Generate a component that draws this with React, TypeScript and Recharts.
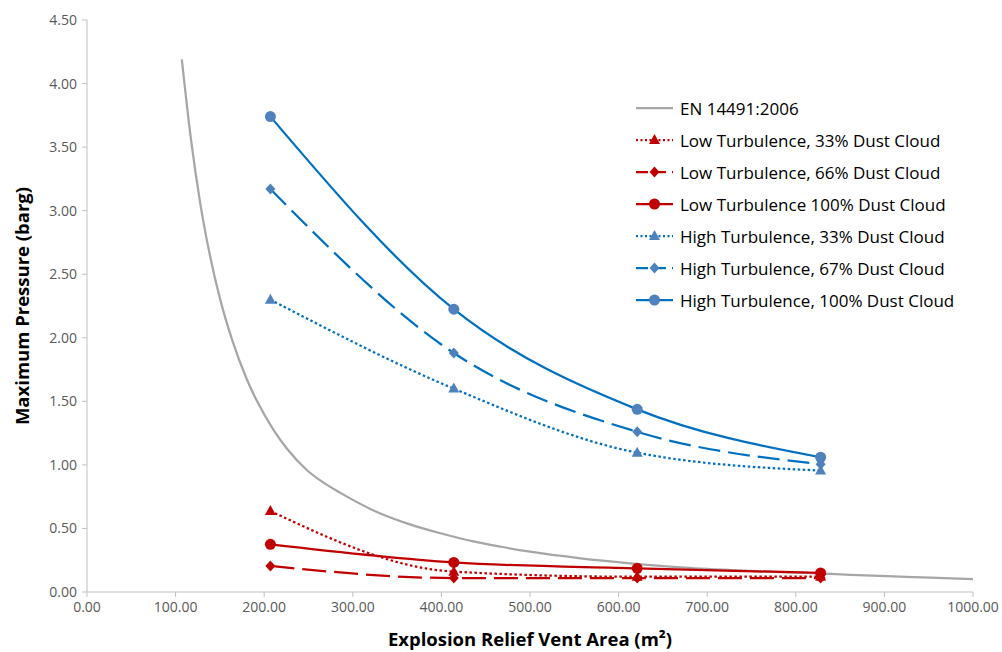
import { LineChart, Line, XAxis, YAxis } from "recharts"

// x axis: vent area (m²), y axis: max pressure (barg)
const xTicks = [0, 100, 200, 300, 400, 500, 600, 700, 800, 900, 1000]
const yTicks = [0, 0.5, 1, 1.5, 2, 2.5, 3, 3.5, 4, 4.5]

const ventAreas = [207, 414, 621, 828]
const lowTurb33 = [0.637, 0.16, 0.12, 0.12]
const lowTurb66 = [0.205, 0.11, 0.11, 0.11]
const lowTurb100 = [0.375, 0.233, 0.186, 0.15]
const highTurb33 = [2.3, 1.6, 1.096, 0.955]
const highTurb67 = [3.17, 1.88, 1.26, 1.005]
const highTurb100 = [3.74, 2.225, 1.437, 1.06]

// EN 14491:2006 reference curve
const enArea = [107, 117, 128, 139, 150, 164, 180, 192, 211, 226, 248, 267, 286, 324, 361, 399, 436, 467, 500, 557, 613, 670, 726, 782, 839, 895, 952, 1000]
const enPressure = [4.19, 3.58, 3.05, 2.64, 2.31, 1.98, 1.68, 1.5, 1.27, 1.125, 0.96, 0.86, 0.78, 0.64, 0.54, 0.462, 0.398, 0.356, 0.317, 0.265, 0.226, 0.194, 0.173, 0.157, 0.142, 0.126, 0.113, 0.102]

const RED = "#C00000"
const BLUE = "#0070C0"
const BLUE_MARK = "#4F81BD"
const GREY = "#A6A6A6"
const FONT = "'Open Sans', sans-serif"

const toPoints = (xs: number[], ys: number[]) => xs.map((x, i) => ({ x, y: ys[i] }))

type Shape = "circle" | "diamond" | "triangle"

function markerPath(shape: Shape, cx: number, cy: number) {
  if (shape === "diamond") return `M${cx},${cy - 5.5}L${cx + 5},${cy}L${cx},${cy + 5.5}L${cx - 5},${cy}Z`
  return `M${cx},${cy - 6}L${cx + 5.5},${cy + 4}L${cx - 5.5},${cy + 4}Z`
}

function Marker({ shape, cx, cy, fill }: { shape: Shape; cx: number; cy: number; fill: string }) {
  if (shape === "circle") return <circle cx={cx} cy={cy} r={5.5} fill={fill} />
  return <path d={markerPath(shape, cx, cy)} fill={fill} />
}

const makeDot = (shape: Shape, fill: string) => (props: any) => {
  const { cx, cy, index } = props
  return (
    <g key={`m-${index}`}>
      <Marker shape={shape} cx={cx} cy={cy} fill={fill} />
    </g>
  )
}

const series = [
  { name: "Low Turbulence, 33% Dust Cloud", values: lowTurb33, color: RED, mark: RED, shape: "triangle" as Shape, dash: "2.5 2.5" },
  { name: "Low Turbulence, 66% Dust Cloud", values: lowTurb66, color: RED, mark: RED, shape: "diamond" as Shape, dash: "24 8" },
  { name: "Low Turbulence 100% Dust Cloud", values: lowTurb100, color: RED, mark: RED, shape: "circle" as Shape, dash: undefined },
  { name: "High Turbulence, 33% Dust Cloud", values: highTurb33, color: BLUE, mark: BLUE_MARK, shape: "triangle" as Shape, dash: "2.5 2.5" },
  { name: "High Turbulence, 67% Dust Cloud", values: highTurb67, color: BLUE, mark: BLUE_MARK, shape: "diamond" as Shape, dash: "22 8" },
  { name: "High Turbulence, 100% Dust Cloud", values: highTurb100, color: BLUE, mark: BLUE_MARK, shape: "circle" as Shape, dash: undefined },
]

function LegendBox() {
  const rows = [{ name: "EN 14491:2006", color: GREY, mark: "", shape: null as Shape | null, dash: undefined as string | undefined }, ...series]
  return (
    <div style={{ position: "absolute", left: 636, top: 92, fontFamily: FONT, fontSize: 17, color: "#000" }}>
      {rows.map((r) => (
        <div key={r.name} style={{ display: "flex", alignItems: "center", height: 32 }}>
          <svg width={37} height={14} style={{ marginRight: 7 }}>
            <line x1={0} y1={7} x2={37} y2={7} stroke={r.color} strokeWidth={2.25} strokeDasharray={r.dash ? (r.dash.startsWith("2.5") ? "2 2.5" : "12 6") : undefined} />
            {r.shape && <Marker shape={r.shape} cx={18.5} cy={7} fill={r.mark} />}
          </svg>
          <span style={{ whiteSpace: "nowrap" }}>{r.name}</span>
        </div>
      ))}
    </div>
  )
}

export default function App() {
  const tick = { fill: "#595959", fontSize: 14, fontFamily: FONT }
  return (
    <div style={{ position: "absolute", left: 0, top: 0, width: 1002, height: 652, background: "#fff" }}>
      <LineChart width={1002} height={652} margin={{ top: 20, right: 29, bottom: 0, left: 0 }} style={{ fontFamily: FONT }}>
        <XAxis
          type="number"
          dataKey="x"
          domain={[0, 1000]}
          ticks={xTicks}
          tickFormatter={(v) => Number(v).toFixed(2)}
          height={60}
          stroke="#BFBFBF"
          tickSize={5}
          tickMargin={5}
          tick={tick}
          label={{ value: "Explosion Relief Vent Area (m²)", position: "insideBottom", offset: 6, style: { fontWeight: 700, fontSize: 18.5, fill: "#000", fontFamily: FONT } }}
        />
        <YAxis
          type="number"
          domain={[0, 4.5]}
          ticks={yTicks}
          tickFormatter={(v) => Number(v).toFixed(2)}
          width={87}
          stroke="#BFBFBF"
          tickSize={5}
          tickMargin={5}
          tick={tick}
          label={{ value: "Maximum Pressure  (barg)", angle: -90, position: "insideLeft", offset: 22, style: { textAnchor: "middle", fontWeight: 700, fontSize: 18.5, fill: "#000", fontFamily: FONT } }}
        />
        <Line
          data={toPoints(enArea, enPressure)}
          dataKey="y"
          name="EN 14491:2006"
          type="monotone"
          stroke={GREY}
          strokeWidth={2.25}
          dot={false}
          isAnimationActive={false}
        />
        {series.map((s) => (
          <Line
            key={s.name}
            data={toPoints(ventAreas, s.values)}
            dataKey="y"
            name={s.name}
            type="monotone"
            stroke={s.color}
            strokeWidth={2.25}
            strokeDasharray={s.dash}
            dot={makeDot(s.shape, s.mark)}
            activeDot={false}
            isAnimationActive={false}
          />
        ))}
      </LineChart>
      <LegendBox />
    </div>
  )
}
